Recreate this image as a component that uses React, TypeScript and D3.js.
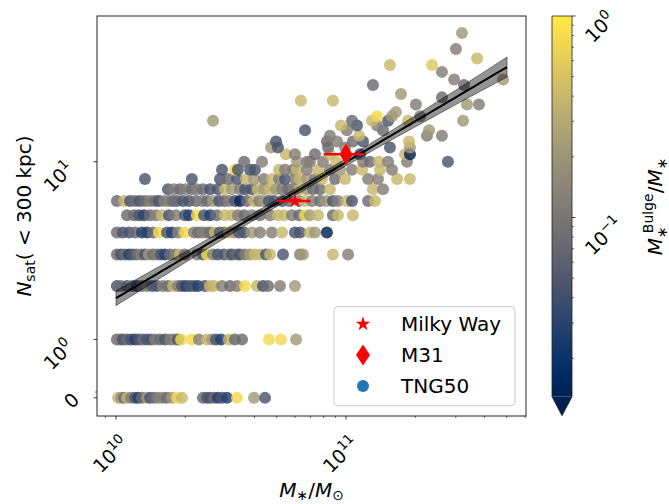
import React from "react";
import * as d3 from "d3";

// ---------------- data ----------------
// log10(M*/Msun) and bulge fraction M*^Bulge/M* for TNG50 hosts, per N_sat row
const logM_N0 = [10.009,10.022,10.035,10.048,10.065,10.083,10.096,10.113,10.135,10.148,10.165,10.183,10.204,10.222,10.243,10.265,10.287,10.378,10.396,10.409,10.426,10.443,10.461,10.483,10.526,10.600,10.648];
const fb_N0 = [.4,.22,.075,.4,.12,.045,.028,.075,.22,.045,.075,.12,.12,.075,.22,.75,.4,.075,.045,.045,.075,.028,.045,.028,.75,.22,.045];
const logM_N1 = [10.004,10.017,10.030,10.048,10.065,10.083,10.100,10.117,10.135,10.152,10.170,10.191,10.213,10.235,10.252,10.270,10.283,10.330,10.361,10.396,10.417,10.435,10.457,10.491,10.517,10.548,10.665,10.717,10.783];
const fb_N1 = [.075,.12,.045,.075,.045,.028,.045,.075,.045,.045,.12,.075,.045,.12,.12,.045,.75,.75,.12,.4,.22,.045,.028,.4,.075,.075,.75,.75,.22];
const logM_N2 = [10.004,10.022,10.048,10.070,10.091,10.113,10.135,10.157,10.178,10.204,10.226,10.248,10.270,10.287,10.304,10.322,10.339,10.357,10.387,10.409,10.426,10.461,10.496,10.526,10.561,10.613,10.639,10.661,10.713,10.778];
const fb_N2 = [.045,.075,.045,.075,.028,.075,.12,.045,.045,.12,.075,.4,.12,.045,.028,.045,.045,.028,.045,.4,.4,.12,.075,.12,.75,.4,.045,.075,.12,.22];
const logM_N3 = [10.004,10.022,10.039,10.057,10.074,10.091,10.109,10.126,10.143,10.161,10.178,10.196,10.213,10.235,10.257,10.278,10.300,10.352,10.378,10.396,10.422,10.443,10.470,10.491,10.504,10.526,10.539,10.561,10.583,10.604,10.626,10.652,10.670,10.726,10.800,10.813,10.943,11.009];
const fb_N3 = [.075,.045,.075,.028,.045,.075,.12,.045,.22,.075,.12,.045,.028,.075,.12,.4,.075,.12,.045,.75,.12,.045,.045,.12,.045,.075,.045,.12,.22,.4,.4,.045,.4,.045,.12,.22,.4,.12];
const logM_N4 = [10.004,10.030,10.057,10.083,10.113,10.135,10.161,10.187,10.222,10.243,10.270,10.300,10.339,10.357,10.374,10.391,10.409,10.430,10.452,10.470,10.491,10.513,10.535,10.557,10.591,10.626,10.678,10.722,10.778,10.800,10.843,10.865,10.917];
const fb_N4 = [.075,.045,.045,.075,.028,.028,.075,.75,.045,.028,.12,.75,.12,.075,.12,.12,.075,.4,.045,.075,.4,.22,.045,.045,.22,.12,.12,.4,.045,.045,.4,.22,.008];
const logM_N5 = [10.048,10.078,10.100,10.122,10.148,10.174,10.200,10.230,10.261,10.300,10.317,10.352,10.383,10.409,10.439,10.474,10.504,10.530,10.557,10.591,10.626,10.670,10.704,10.730,10.765,10.796,10.822,10.843,10.878,10.943,10.965,11.030];
const fb_N5 = [.075,.075,.045,.028,.075,.12,.4,.045,.12,.045,.028,.75,.045,.028,.075,.4,.4,.12,.075,.12,.075,.12,.4,.4,.12,.075,.75,.22,.4,.075,.4,.4];
const logM_N6 = [10.004,10.035,10.061,10.083,10.104,10.126,10.148,10.170,10.187,10.209,10.230,10.248,10.265,10.291,10.317,10.348,10.374,10.396,10.422,10.448,10.470,10.491,10.517,10.539,10.570,10.600,10.622,10.643,10.665,10.687,10.722,10.752,10.796,10.822,10.852,10.887,10.913,10.943,10.965,11.004,11.026,11.096,11.126];
const fb_N6 = [.075,.4,.045,.075,.045,.075,.12,.075,.045,.12,.12,.075,.075,.045,.045,.075,.12,.075,.22,.045,.075,.12,.045,.008,.075,.4,.12,.22,.045,.045,.045,.075,.12,.4,.12,.075,.22,.045,.12,.4,.045,.075,.4];
const logM_N7 = [10.226,10.252,10.278,10.304,10.330,10.352,10.378,10.409,10.443,10.474,10.504,10.539,10.561,10.591,10.617,10.643,10.670,10.696,10.722,10.748,10.774,10.800,10.830,10.857,10.887,10.930,11.117,11.161];
const fb_N7 = [.045,.12,.075,.12,.075,.12,.075,.045,.045,.4,.22,.12,.045,.045,.4,.22,.4,.22,.12,.075,.12,.4,.22,.075,.075,.4,.4,.12];
const logM_N8 = [10.126,10.330,10.452,10.487,10.526,10.565,10.600,10.643,10.678,10.709,10.735,10.778,10.800,10.830,10.865,10.896,10.952,10.996,11.096,11.139,11.222,11.278];
const fb_N8 = [.045,.045,.045,.075,.045,.4,.22,.12,.4,.12,.045,.12,.4,.22,.12,.4,.075,.4,.12,.12,.4,.4];
const logM_N9 = [10.461,10.517,10.530,10.583,10.604,10.709,10.735,10.770,10.787,10.830,10.878,10.930,10.974,11.026,11.070,11.148,11.200];
const fb_N9 = [.045,.75,.045,.045,.045,.4,.12,.12,.4,.12,.4,.12,.22,.12,.4,.4,.12];
const logM_N10 = [10.557,10.635,10.787,10.830,10.843,10.900,10.957,11.074,11.104,11.143,11.183,11.265,11.443];
const fb_N10 = [.075,.12,.22,.12,.12,.12,.4,.12,.075,.4,.12,.12,.045];

// sparse hosts with N_sat > 10
const upperN = [11,11,11,11,11,11,11, 12,12,12,12,12,12, 13,13,13,13,13,13, 14,14,14,14, 15,15,15,15, 16,16,16, 17,17,17,17,17,17, 18,18,18, 19, 21,21,21, 22,22, 23, 24, 27,27, 29,29, 32, 35,35, 38, 43, 53];
const upperLogM = [10.739,10.778,10.865,10.930,11.061,11.257,11.278, 10.674,10.704,10.922,10.996,11.191,11.278, 10.696,10.917,10.961,11.030,11.074,11.274, 10.930,11.057,11.352,11.417, 10.822,11.004,11.161,11.361, 10.978,11.048,11.135, 10.422,11.026,11.113,11.183,11.270,11.509, 11.135,11.200,11.322, 11.217, 11.304,11.526,11.578, 10.804,10.943, 11.417, 11.239, 11.117,11.513, 11.470,11.683, 11.417, 11.191,11.374, 11.570, 11.478, 11.504];
const upperFb = [.4,.12,.075,.4,.045,.4,.008, .22,.045,.075,.12,.045,.22, .045,.075,.12,.075,.045,.4, .12,.4,.12,.12, .045,.12,.075,.22, .4,.045,.12, .22,.075,.4,.045,.4,.22, .75,.22,.12, .22, .12,.22,.12, .4,.4, .075, .22, .075,.075, .12,.22, .12, .4,.55, .4, .12, .22];

// observed Local Group hosts
const mwMass = 6.0e10, mwMassErr = 1.0e10, mwNsat = 6;
const m31Mass = 1.0e11, m31MassErr = 0.2e11, m31Nsat = 11;

// power-law fit log N = a + b (log M - 10)
const fitIntercept = 0.232;
const fitSlope = 0.765;
const fitLogMRange = [10.0, 11.7];
const bandLogM = [10.0, 10.3, 10.6, 10.9, 11.2, 11.5, 11.7];
const bandHalfWidth = [0.042, 0.030, 0.020, 0.018, 0.026, 0.042, 0.056];

// axes
const xDomain = [8.27e9, 6.06e11];
const yDomainN = [-0.31, 66];
const xMajorTicks = [1e10, 1e11];
const xMajorLabels = ["10", "11"];
const xMinorTicks = [9e9, 2e10, 3e10, 4e10, 5e10, 6e10, 7e10, 8e10, 9e10, 2e11, 3e11, 4e11, 5e11, 6e11];
const yMajorTicks = [0, 1, 10];
const yMinorTicks = [0.1];
const cbDomain = [0.0129, 1];
const cbMajorTicks = [1, 0.1];
const cbMajorLabels = ["0", "\u22121"];
const cbMinorTicks = [0.9, 0.8, 0.7, 0.6, 0.5, 0.4, 0.3, 0.2, 0.09, 0.08, 0.07, 0.06, 0.05, 0.04, 0.03, 0.02];
const legendLabels = ["Milky Way", "M31", "TNG50"];

// ---------------- layout ----------------
const W = 669, H = 504;
const L = 97, R = 526, T = 16, B = 416;
const CBL = 552, CBR = 572, CBT = 16, CBB = 396.7, CBTIP = 415.7;
const FONT = "DejaVu Sans";

const LINSCALE = 0.329;
const symT = (n: number) => {
  const a = Math.abs(n);
  const v = a <= 1 ? a * LINSCALE : LINSCALE + Math.log10(a);
  return n < 0 ? -v : v;
};

const x = d3.scaleLog().domain(xDomain).range([L, R]);
const yT = d3.scaleLinear().domain([symT(yDomainN[0]), symT(yDomainN[1])]).range([B, T]);
const y = (n: number) => yT(symT(n));
const cb = d3.scaleLog().domain(cbDomain).range([CBB, CBT]);
const colorOf = (b: number) => {
  if (b < cbDomain[0]) return d3.interpolateCividis(0);
  const t = Math.log10(b / cbDomain[0]) / Math.log10(cbDomain[1] / cbDomain[0]);
  return d3.interpolateCividis(Math.min(1, t));
};

const rowLevels = [0, 1, 2, 3, 4, 5, 6, 7, 8, 9, 10];
const rowLogM = [logM_N0, logM_N1, logM_N2, logM_N3, logM_N4, logM_N5, logM_N6, logM_N7, logM_N8, logM_N9, logM_N10];
const rowFb = [fb_N0, fb_N1, fb_N2, fb_N3, fb_N4, fb_N5, fb_N6, fb_N7, fb_N8, fb_N9, fb_N10];

type Pt = { m: number; n: number; b: number };
const points: Pt[] = [];
rowLevels.forEach((n, r) => {
  rowLogM[r].forEach((lm, i) => points.push({ m: Math.pow(10, lm), n, b: rowFb[r][i] ?? 0.1 }));
});
upperN.forEach((n, i) => points.push({ m: Math.pow(10, upperLogM[i]), n, b: upperFb[i] ?? 0.1 }));

const halfW = d3.scaleLinear().domain(bandLogM).range(bandHalfWidth);
const fitSamples = d3.range(0, 61).map((i) => fitLogMRange[0] + (i / 60) * (fitLogMRange[1] - fitLogMRange[0]));
const fitLogN = (lm: number) => fitIntercept + fitSlope * (lm - 10);
const bandArea = d3
  .area<number>()
  .x((lm) => x(Math.pow(10, lm)))
  .y0((lm) => y(Math.pow(10, fitLogN(lm) - halfW(lm))))
  .y1((lm) => y(Math.pow(10, fitLogN(lm) + halfW(lm))));
const fitLine = d3
  .line<number>()
  .x((lm) => x(Math.pow(10, lm)))
  .y((lm) => y(Math.pow(10, fitLogN(lm))));

const starPath = d3.symbol(d3.symbolStar, 66)()!;
const diamondPath = (w: number, h: number) => `M0,${-h}L${w},0L0,${h}L${-w},0Z`;

const TICK_FS = 19;
const SUP_FS = 13.3;
const digitW = 0.636;

export default function App() {
  const gradStops = d3.range(0, 21).map((i) => i / 20);
  return (
    <svg width={W} height={H} style={{ display: "block", position: "absolute", left: 0, top: 0 }} fontFamily={FONT}>
      <defs>
        <linearGradient id="cbgrad" x1="0" y1="1" x2="0" y2="0">
          {gradStops.map((t) => (
            <stop key={t} offset={t} stopColor={d3.interpolateCividis(t)} />
          ))}
        </linearGradient>
        <clipPath id="plotclip">
          <rect x={L} y={T} width={R - L} height={B - T} />
        </clipPath>
      </defs>
      <rect x={0} y={0} width={W} height={H} fill="white" />

      {/* scatter */}
      <g clipPath="url(#plotclip)">
        {points.map((p, i) => (
          <circle key={i} cx={x(p.m)} cy={y(p.n)} r={6} fill={colorOf(p.b)} fillOpacity={0.82} />
        ))}
        <path d={bandArea(fitSamples)!} fill="#000" fillOpacity={0.42} stroke="#000" strokeOpacity={0.45} strokeWidth={1} />
        <path d={fitLine(fitSamples)!} fill="none" stroke="#000" strokeWidth={2} />
        {/* Milky Way */}
        <line x1={x(mwMass - mwMassErr)} x2={x(mwMass + mwMassErr)} y1={y(mwNsat)} y2={y(mwNsat)} stroke="red" strokeWidth={2.5} />
        <path d={starPath} transform={`translate(${x(mwMass)},${y(mwNsat)})`} fill="red" />
        {/* M31 */}
        <line x1={x(m31Mass - m31MassErr)} x2={x(m31Mass + m31MassErr)} y1={y(m31Nsat)} y2={y(m31Nsat)} stroke="red" strokeWidth={2.5} />
        <path d={diamondPath(6.5, 11)} transform={`translate(${x(m31Mass)},${y(m31Nsat)})`} fill="red" />
      </g>

      {/* frame */}
      <rect x={L} y={T} width={R - L} height={B - T} fill="none" stroke="#222" strokeWidth={1} />

      {/* x ticks */}
      {xMinorTicks.filter((t) => x(t) >= L - 0.5 && x(t) <= R + 0.5).map((t) => (
        <line key={"xm" + t} x1={x(t)} x2={x(t)} y1={B} y2={B + 2} stroke="#222" strokeWidth={0.7} />
      ))}
      {xMajorTicks.map((t, i) => (
        <g key={"xM" + t}>
          <line x1={x(t)} x2={x(t)} y1={B} y2={B + 3.5} stroke="#222" strokeWidth={0.9} />
          <text
            transform={`translate(${x(t) + 14},445) rotate(-45)`}
            textAnchor="end"
            fontSize={TICK_FS}
            fill="#000"
          >
            <tspan>10</tspan>
            <tspan fontSize={SUP_FS} dy={-8}>{xMajorLabels[i]}</tspan>
          </text>
        </g>
      ))}

      {/* y ticks */}
      {yMinorTicks.map((t) => (
        <line key={"ym" + t} x1={L - 2} x2={L} y1={y(t)} y2={y(t)} stroke="#222" strokeWidth={0.7} />
      ))}
      {yMajorTicks.map((t) => {
        const isZero = t === 0;
        const len = isZero ? digitW * TICK_FS : 2 * digitW * TICK_FS + digitW * SUP_FS;
        const ax = 84 - 0.28 * len;
        const ay = y(t) + 0.26 * len;
        return (
          <g key={"yM" + t}>
            <line x1={L - 3.5} x2={L} y1={y(t)} y2={y(t)} stroke="#222" strokeWidth={0.9} />
            <text transform={`translate(${ax},${ay}) rotate(-45)`} textAnchor="end" fontSize={TICK_FS}>
              {isZero ? (
                <tspan>0</tspan>
              ) : (
                <>
                  <tspan>10</tspan>
                  <tspan fontSize={SUP_FS} dy={-8}>{String(Math.round(Math.log10(t)))}</tspan>
                </>
              )}
            </text>
          </g>
        );
      })}

      {/* axis labels */}
      <text x={(L + R) / 2} y={497} textAnchor="middle" fontSize={20}>
        <tspan fontStyle="italic">M</tspan>
        <tspan fontSize={14} dy={3}>∗</tspan>
        <tspan dy={-3}>/</tspan>
        <tspan fontStyle="italic">M</tspan>
        <tspan fontSize={14} dy={3}>⊙</tspan>
      </text>
      <text transform={`translate(31,${(T + B) / 2}) rotate(-90)`} textAnchor="middle" fontSize={20}>
        <tspan fontStyle="italic">N</tspan>
        <tspan fontSize={14} dy={4}>sat</tspan>
        <tspan dy={-4}>( &lt; 300 kpc)</tspan>
      </text>

      {/* legend */}
      <g>
        <rect x={334} y={306.7} width={181} height={99} rx={4} fill="white" fillOpacity={0.8} stroke="#cccccc" strokeWidth={1} />
        <path d={starPath} transform="translate(363,324)" fill="red" />
        <path d={diamondPath(7, 10.5)} transform="translate(363,355)" fill="red" />
        <circle cx={363} cy={386} r={6} fill="#1f77b4" />
        {legendLabels.map((s, i) => (
          <text key={s} x={401} y={331 + i * 31} fontSize={20} fill="#000">{s}</text>
        ))}
      </g>

      {/* colorbar */}
      <rect x={CBL} y={CBT} width={CBR - CBL} height={CBB - CBT} fill="url(#cbgrad)" />
      <path d={`M${CBL},${CBB}L${(CBL + CBR) / 2},${CBTIP}L${CBR},${CBB}Z`} fill={d3.interpolateCividis(0)} />
      <path
        d={`M${CBL},${CBT}L${CBR},${CBT}L${CBR},${CBB}L${(CBL + CBR) / 2},${CBTIP}L${CBL},${CBB}Z`}
        fill="none"
        stroke="#222"
        strokeWidth={0.8}
      />
      {cbMinorTicks.map((t) => (
        <line key={"cm" + t} x1={CBR} x2={CBR + 2} y1={cb(t)} y2={cb(t)} stroke="#222" strokeWidth={0.7} />
      ))}
      {cbMajorTicks.map((t, i) => {
        const len = i === 0 ? 2 * digitW * TICK_FS + digitW * SUP_FS : 2 * digitW * TICK_FS + 1.474 * SUP_FS;
        return (
          <g key={"cM" + t}>
            <line x1={CBR} x2={CBR + 3.5} y1={cb(t)} y2={cb(t)} stroke="#222" strokeWidth={0.9} />
            <text transform={`translate(593,${cb(t) + len - 5}) rotate(-45)`} fontSize={TICK_FS}>
              <tspan>10</tspan>
              <tspan fontSize={SUP_FS} dy={-8}>{cbMajorLabels[i]}</tspan>
            </text>
          </g>
        );
      })}
      <text transform={`translate(662,${(CBT + CBB) / 2}) rotate(-90)`} textAnchor="middle" fontSize={20}>
        <tspan fontStyle="italic">M</tspan>
        <tspan fontSize={14} dy={5}>∗</tspan>
        <tspan fontSize={14} dx={-7} dy={-14}>Bulge</tspan>
        <tspan dy={9}>/</tspan>
        <tspan fontStyle="italic">M</tspan>
        <tspan fontSize={14} dy={5}>∗</tspan>
      </text>
    </svg>
  );
}
